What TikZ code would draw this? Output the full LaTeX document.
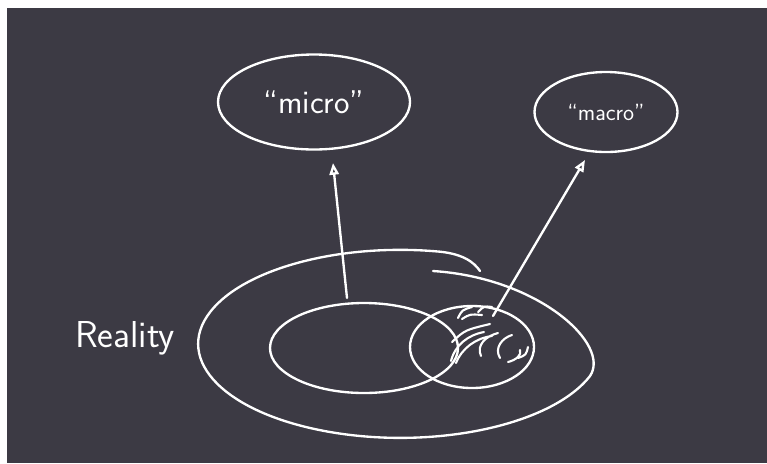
\documentclass[tikz,border=0pt]{standalone}
\usepackage{tikz}
\usetikzlibrary{arrows.meta, shapes.geometric}
\definecolor{board}{RGB}{60,58,68}

\begin{document}
\begin{tikzpicture}[x=0.03cm, y=-0.03cm, line width=2pt, line cap=round, line join=round,
    chalk/.style={draw=white},
    model/.style={chalk, ellipse, text=white, font=\sffamily},
    pointer/.style={chalk, -{Triangle[open, length=10pt, width=8pt]}},
    hatch/.style={chalk, line width=1.8pt}]
    \useasboundingbox (0,0) rectangle (767,463);
    \fill[white] (0,0) rectangle (767,463);
    \fill[board] (7,8) rectangle (767,463);
    % the two models
    \node[model, minimum width=5.76cm, minimum height=2.85cm, font=\sffamily\fontsize{28}{32}\selectfont] (micro) at (314,102) {``micro''};
    \node[model, minimum width=4.29cm, minimum height=2.4cm, font=\sffamily\fontsize{20}{24}\selectfont] (macro) at (606,112) {``macro''};
    % reality, drawn as one open loop
    \draw[chalk] (433,271) .. controls (540,278) and (611,345) .. (590,376)
        arc[start angle=20, end angle=280, x radius=202, y radius=94]
        .. controls (462,253) and (474,262) .. (480,271);
    \node[white, font=\sffamily\fontsize{32}{36}\selectfont, anchor=base west] (reality) at (70,347) {Reality};
    % the two parts
    \draw[chalk] (364,348) ellipse [x radius=94, y radius=45];
    \draw[chalk] (472,347) ellipse [x radius=62, y radius=41];
    \draw[hatch] (458,318) .. controls (462,310) .. (472,307)
        (462,319) .. controls (470,314) .. (482,315)
        (478,312) .. controls (484,306) .. (492,307)
        (452,342) .. controls (465,330) .. (490,324)
        (451,361) .. controls (455,345) and (468,335) .. (484,332)
        (456,363) .. controls (462,348) and (476,338) .. (492,336)
        (481,356) .. controls (476,345) and (486,336) .. (498,333)
        (500,358) .. controls (494,348) and (502,338) .. (512,335)
        (508,362) .. controls (516,360) and (522,355) .. (520,350)
        (518,358) .. controls (526,355) .. (528,347);
    % arrows up to the models
    \coordinate (microfoot) at (347,298);
    \coordinate (microtip) at (333,163);
    \coordinate (macrofoot) at (493,316);
    \coordinate (macrotip) at (585,160);
    \draw[pointer] (microfoot) -- (microtip);
    \draw[pointer] (macrofoot) -- (macrotip);
\end{tikzpicture}
\end{document}
